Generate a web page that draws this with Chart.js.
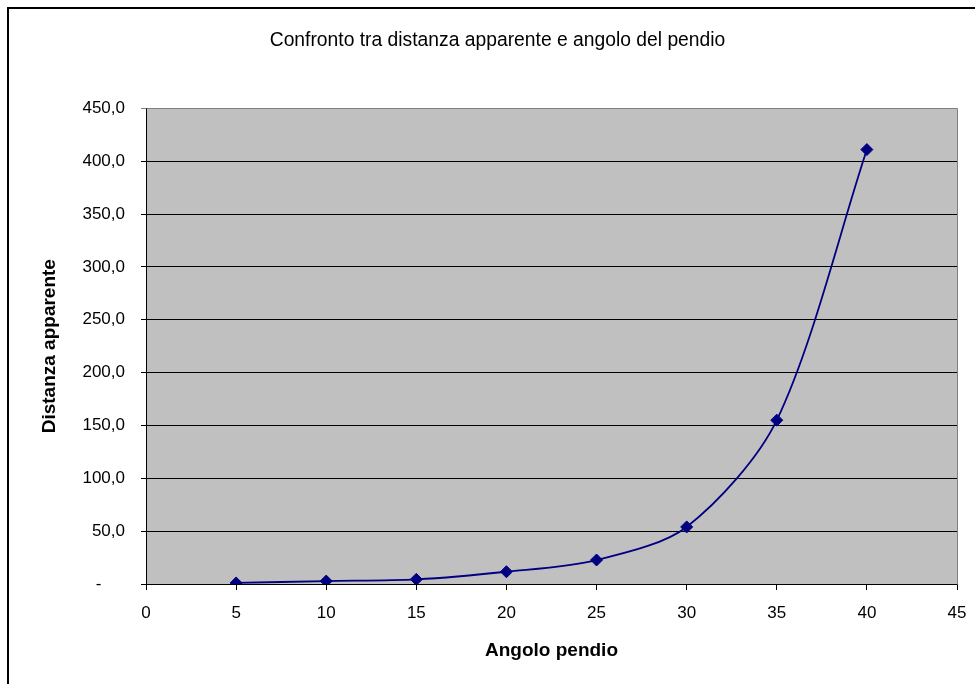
<html lang="it">
  <head>
    <title>Confronto tra distanza apparente e angolo del pendio</title>
    <meta charset="utf-8">
    <script src="https://cdn.jsdelivr.net/npm/chart.js@4.4.0/dist/chart.umd.min.js"></script>
    <style>
      body { margin: 0; background: #ffffff; }
      #chartBox { width: 975px; height: 684px; }
    </style>
  </head>
  <body>
  <div id="chartBox"><canvas id="myChart"></canvas></div>
  <script>
    // values
    var angles = [5, 10, 15, 20, 25, 30, 35, 40];
    var distances = [1.0, 2.8, 4.4, 11.6, 22.7, 54.0, 155.0, 411.0];
    var xTicks = [0, 5, 10, 15, 20, 25, 30, 35, 40, 45];
    var yTicks = [0, 50, 100, 150, 200, 250, 300, 350, 400, 450];

    var points = [];
    for (var i = 0; i < angles.length; i++) {
      points.push({ x: angles[i], y: distances[i] });
    }

    // white page, outer frame and grey plot area
    var excelFrame = {
      id: 'excelFrame',
      beforeDraw: function(chart) {
        var ctx = chart.ctx;
        var area = chart.chartArea;
        ctx.save();
        ctx.fillStyle = '#ffffff';
        ctx.fillRect(0, 0, chart.width, chart.height);
        ctx.strokeStyle = '#000000';
        ctx.lineWidth = 2;
        ctx.strokeRect(8, 8, chart.width + 20, chart.height + 20);
        ctx.fillStyle = '#c0c0c0';
        ctx.fillRect(area.left, area.top, area.right - area.left, area.bottom - area.top);
        ctx.restore();
      },
      beforeDatasetsDraw: function(chart) {
        var ctx = chart.ctx;
        var area = chart.chartArea;
        ctx.save();
        ctx.strokeStyle = '#808080';
        ctx.lineWidth = 1;
        ctx.beginPath();
        ctx.moveTo(Math.round(area.left) + 0.5, Math.round(area.top) + 0.5);
        ctx.lineTo(Math.round(area.right) + 0.5, Math.round(area.top) + 0.5);
        ctx.lineTo(Math.round(area.right) + 0.5, Math.round(area.bottom) + 0.5);
        ctx.stroke();
        ctx.restore();
      }
    };

    Chart.defaults.font.family = '"Liberation Sans", Arial, sans-serif';
    Chart.defaults.color = '#000000';

    var ctx = document.getElementById('myChart').getContext('2d');
    new Chart(ctx, {
      type: 'line',
      data: {
        datasets: [{
          label: 'Distanza apparente',
          data: points,
          borderColor: '#000080',
          backgroundColor: '#000080',
          borderWidth: 1.8,
          tension: 0.3,
          fill: false,
          pointStyle: 'rectRot',
          pointRadius: 6,
          pointHoverRadius: 6,
          pointBorderWidth: 1,
          pointBorderColor: '#000080',
          pointBackgroundColor: '#000080'
        }]
      },
      options: {
        responsive: true,
        maintainAspectRatio: false,
        animation: false,
        layout: {
          padding: { left: 38, right: 18, top: 0, bottom: 0 }
        },
        plugins: {
          legend: { display: false },
          tooltip: { enabled: false },
          title: {
            display: true,
            text: 'Confronto tra distanza apparente e angolo del pendio',
            color: '#000000',
            font: { size: 19.3, weight: 'normal' },
            padding: { top: 29, bottom: 56.2 }
          }
        },
        scales: {
          x: {
            type: 'linear',
            min: 0,
            max: 45,
            afterFit: function(axis) {
              axis.height = 100;
              axis.paddingLeft = 0;
              axis.paddingRight = 0;
            },
            afterBuildTicks: function(axis) {
              axis.ticks = xTicks.map(function(v) { return { value: v }; });
            },
            grid: {
              drawOnChartArea: false,
              drawTicks: true,
              tickLength: 6,
              color: '#000000'
            },
            border: { color: '#000000', width: 1 },
            ticks: {
              padding: 13,
              maxRotation: 0,
              font: { size: 17 }
            },
            title: {
              display: true,
              text: 'Angolo pendio',
              font: { size: 19, weight: 'bold' },
              padding: { top: 0, bottom: 22 }
            }
          },
          y: {
            type: 'linear',
            min: 0,
            max: 450,
            afterFit: function(axis) { axis.width = 108; },
            afterBuildTicks: function(axis) {
              axis.ticks = yTicks.map(function(v) { return { value: v }; });
            },
            grid: {
              drawTicks: true,
              tickLength: 5,
              color: function(c) {
                return c.tick && c.tick.value === 450 ? '#808080' : '#000000';
              }
            },
            border: { color: '#000000', width: 1 },
            ticks: {
              padding: 16,
              font: { size: 17 },
              callback: function(value) {
                // Excel accounting format: zero shown as a dash
                if (value === 0) return '-     ';
                return value.toFixed(1).replace('.', ',');
              }
            },
            title: {
              display: true,
              text: 'Distanza apparente',
              font: { size: 19, weight: 'bold' },
              padding: { top: 0, bottom: 0 }
            }
          }
        }
      },
      plugins: [excelFrame]
    });
  </script>
  </body>
</html>
